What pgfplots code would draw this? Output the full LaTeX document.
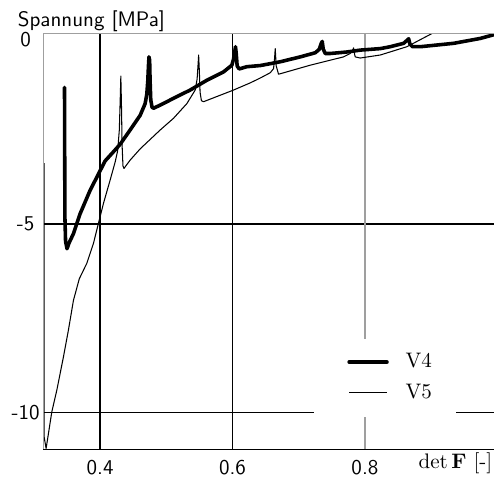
\documentclass[border=0pt]{standalone}
\usepackage{pgfplots}
\pgfplotsset{compat=1.18}

\begin{document}
\begin{tikzpicture}
\begin{axis}[
  name=ax,
  scale only axis,
  width=214.5pt, height=197.9pt,
  xmin=0.31386, xmax=0.99495,
  ymin=-10.98, ymax=0.057,
  xtick={0.4,0.6}, xticklabels={0.4,0.6},
  extra x ticks={0.8}, extra x tick labels={0.8},
  extra x tick style={major grid style={gray!75, line width=0.6pt}},
  ytick={-10,-5}, yticklabels={-10,-5},
  extra y ticks={0}, extra y tick labels={0},
  extra y tick style={major grid style={draw=none}, yticklabel style={yshift=-2pt}},
  grid=major,
  major grid style={black, line width=0.75pt},
  major tick length=0pt,
  tick label style={font=\sffamily},
  xticklabel style={yshift=-1.4pt},
  yticklabel style={anchor=center, xshift=-8.3pt},
  axis line style={draw=none},
  legend style={at={(0.6053,0.2684)}, anchor=north west, draw=none, fill=none,
                inner xsep=7pt, inner ysep=5.1pt, row sep=2.3pt, column sep=6pt,
                cells={anchor=west}},
  legend image code/.code={\path (-7.7pt,0pt); \draw[#1] (0pt,0pt) -- (18pt,0pt);},
]
% white box behind the legend, it cuts the grid lines
\fill[white] (axis cs:0.7234,-8.05) rectangle (axis cs:0.938,-10.12);
% V4
\addplot[black, line width=1.7pt, line join=round, line cap=round] coordinates {
  (0.3462,-1.37) (0.3468,-4.80) (0.3478,-5.45) (0.3500,-5.65) (0.3530,-5.50)
  (0.3597,-5.25) (0.3698,-4.72) (0.3849,-4.10) (0.4000,-3.58) (0.4076,-3.32)
  (0.4200,-3.08) (0.4302,-2.88) (0.4453,-2.50) (0.4605,-2.11) (0.4680,-1.80)
  (0.4705,-1.55) (0.4720,-1.20) (0.4730,-0.80) (0.4738,-0.56) (0.4748,-0.65)
  (0.4755,-1.20) (0.4765,-1.70) (0.4785,-1.90) (0.4810,-1.92) (0.4907,-1.84)
  (0.5108,-1.66) (0.5360,-1.44) (0.5612,-1.18) (0.5863,-0.96) (0.5990,-0.78)
  (0.6015,-0.62) (0.6035,-0.40) (0.6045,-0.29) (0.6055,-0.45) (0.6070,-0.80)
  (0.6100,-0.88) (0.6217,-0.82) (0.6418,-0.79) (0.6570,-0.74) (0.6720,-0.69)
  (0.7023,-0.56) (0.7250,-0.45) (0.7310,-0.36) (0.7340,-0.20) (0.7355,-0.15)
  (0.7370,-0.35) (0.7400,-0.47) (0.7476,-0.47) (0.7728,-0.43) (0.7929,-0.38)
  (0.8232,-0.34) (0.8383,-0.29) (0.8584,-0.20) (0.8630,-0.13) (0.8660,-0.08)
  (0.8680,-0.22) (0.8720,-0.29) (0.8836,-0.29) (0.9340,-0.20) (0.9743,-0.07)
  (0.9950,0.03)};
\addlegendentry{V4}
% V5
\addplot[black, line width=0.5pt, line join=round] coordinates {
  (0.3155,-3.38) (0.3155,-10.65) (0.3184,-10.95) (0.3219,-10.56) (0.3270,-9.98)
  (0.3345,-9.41) (0.3446,-8.52) (0.3521,-7.81) (0.3597,-7.02) (0.3685,-6.45)
  (0.3798,-6.04) (0.3899,-5.51) (0.3974,-4.98) (0.4050,-4.45) (0.4151,-3.83)
  (0.4227,-3.35) (0.4265,-3.05) (0.4290,-2.50) (0.4305,-1.60) (0.4313,-1.07)
  (0.4322,-1.80) (0.4332,-2.90) (0.4345,-3.45) (0.4360,-3.52) (0.4453,-3.30)
  (0.4605,-3.00) (0.4907,-2.50) (0.5108,-2.19) (0.5310,-1.80) (0.5436,-1.44)
  (0.5465,-1.15) (0.5480,-0.75) (0.5488,-0.51) (0.5498,-0.90) (0.5510,-1.50)
  (0.5530,-1.72) (0.5561,-1.75) (0.6015,-1.44) (0.6267,-1.25) (0.6420,-1.12)
  (0.6570,-0.98) (0.6620,-0.87) (0.6635,-0.60) (0.6645,-0.34) (0.6660,-0.80)
  (0.6695,-1.02) (0.7174,-0.78) (0.7677,-0.56) (0.7778,-0.47) (0.7810,-0.40)
  (0.7829,-0.32) (0.7845,-0.50) (0.7854,-0.56) (0.7929,-0.59) (0.8232,-0.51)
  (0.8634,-0.29) (0.9013,0.06) (0.9100,0.12)};
\addlegendentry{V5}
\end{axis}
\draw[gray!75, line width=0.5pt] (ax.south west) -- (ax.north west) -- (ax.north east);
\draw[black, line width=0.6pt] (ax.south west) -- (ax.south east);
\node[anchor=base west, font=\sffamily, inner sep=0pt] at ([xshift=-12.2pt,yshift=3.6pt]ax.north west) {Spannung [MPa]};
\node[anchor=base east, inner sep=0pt] at ([xshift=-0.6pt,yshift=-8.8pt]ax.south east) {$\det\mathbf{F}$ [-]};
\pgfresetboundingbox
\path ([xshift=-20.5pt,yshift=-17pt]ax.south west) rectangle ([yshift=16pt]ax.north east);
\end{tikzpicture}
\end{document}
